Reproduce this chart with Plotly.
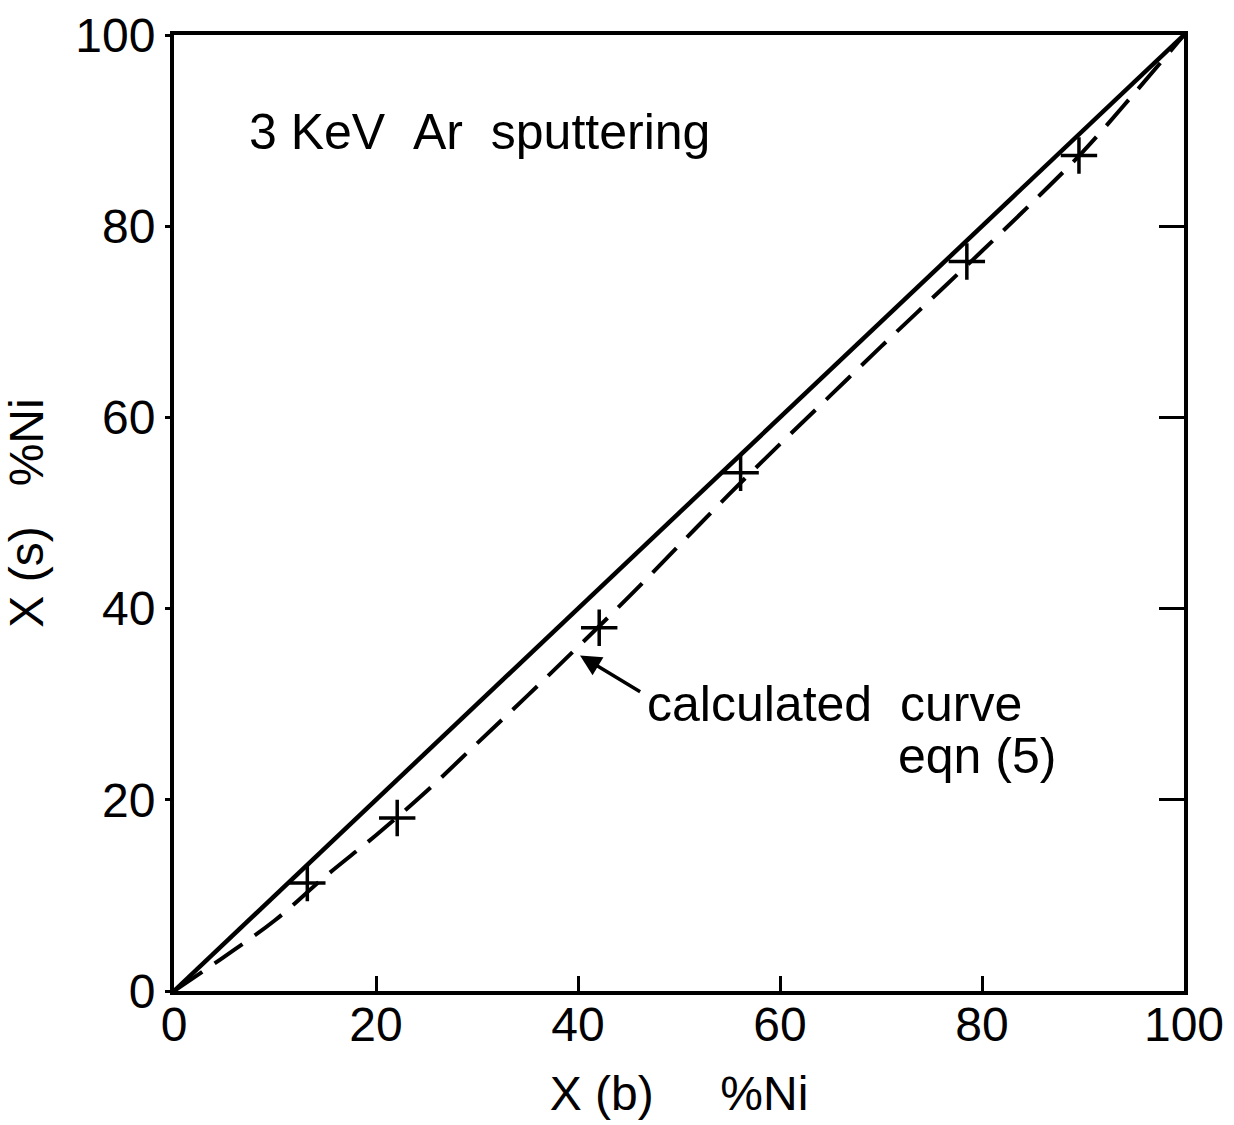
import plotly.graph_objects as go

# Measured points (+ markers)
pts_x = [13.2, 22.1, 42.1, 56.1, 78.5, 89.6]
pts_y = [11.3, 18.1, 38.0, 54.2, 76.3, 87.4]

# Calculated curve, eqn (5) (dashed)
calc_x = [0, 5, 10, 15, 20, 25, 30, 35, 40, 45, 50, 55, 60, 65, 70, 75, 80, 85, 90, 95, 100]
calc_y = [0, 3.6, 7.4, 12.0, 16.3, 20.9, 25.9, 30.9, 36.0, 41.2, 46.6, 52.0, 57.2, 62.3, 67.4, 72.4, 77.4, 82.5, 87.8, 93.8, 100]

# Reference diagonal (solid)
diag_x = [0, 100]
diag_y = [0, 100]

tick_vals = [0, 20, 40, 60, 80, 100]
tick_text = ["0", "20", "40", "60", "80", "100"]

FONT = "Liberation Sans"
NB = "\u00a0"

fig = go.Figure()
fig.add_trace(go.Scatter(x=diag_x, y=diag_y, mode="lines",
                         line=dict(color="black", width=4.5), showlegend=False))
fig.add_trace(go.Scatter(x=calc_x, y=calc_y, mode="lines",
                         line=dict(color="black", width=4, dash="34px,15px", shape="spline"),
                         showlegend=False))
fig.add_trace(go.Scatter(x=pts_x, y=pts_y, mode="markers",
                         marker=dict(symbol="cross-thin", size=26,
                                     line=dict(color="black", width=3.5)),
                         showlegend=False))
# invisible trace to activate right-side tick axis
fig.add_trace(go.Scatter(x=diag_x, y=diag_y, mode="lines", yaxis="y2",
                         line=dict(color="rgba(0,0,0,0)", width=0),
                         showlegend=False, hoverinfo="skip"))

fig.add_annotation(x=7.2, y=89.9, xref="x", yref="y", text="3" + NB + "KeV" + NB * 2 + "Ar" + NB * 2 + "sputtering",
                   showarrow=False, xanchor="left", yanchor="middle",
                   font=dict(family=FONT, size=50, color="black"))
fig.add_annotation(x=40.2, y=35.1, xref="x", yref="y",
                   ax=46.3, ay=31.2, axref="x", ayref="y",
                   text="", showarrow=True, arrowhead=2, arrowsize=1.2,
                   arrowwidth=3.5, arrowcolor="black")
fig.add_annotation(x=46.6, y=30.0, xref="x", yref="y", text="calculated" + NB * 2 + "curve",
                   showarrow=False, xanchor="left", yanchor="middle",
                   font=dict(family=FONT, size=50, color="black"))
fig.add_annotation(x=87.5, y=24.6, xref="x", yref="y", text="eqn (5)",
                   showarrow=False, xanchor="right", yanchor="middle",
                   font=dict(family=FONT, size=50, color="black"))

fig.update_layout(
    width=1234, height=1125,
    margin=dict(l=174, r=50, t=35, b=134),
    paper_bgcolor="white", plot_bgcolor="white",
    font=dict(family=FONT, color="black", size=48),
    xaxis=dict(range=[0, 100], tickvals=tick_vals, ticktext=tick_text,
               ticks="inside", ticklen=15, tickwidth=3, tickcolor="black",
               ticklabelstandoff=-12,
               showline=True, linewidth=4, linecolor="black", mirror=True,
               showgrid=False, zeroline=False, automargin=False,
               tickfont=dict(family=FONT, size=48, color="black"),
               title=dict(text="X" + NB + "(b)" + NB * 5 + "%Ni", standoff=28,
                          font=dict(family=FONT, size=48, color="black"))),
    yaxis=dict(range=[0, 100], tickvals=tick_vals, ticktext=tick_text,
               ticks="outside", ticklen=5, tickwidth=3, tickcolor="black",
               showline=True, linewidth=4, linecolor="black", mirror=True,
               showgrid=False, zeroline=False, automargin=False,
               tickfont=dict(family=FONT, size=48, color="black"),
               title=dict(text="X" + NB + "(s)" + NB * 3 + "%Ni", standoff=18,
                          font=dict(family=FONT, size=48, color="black"))),
    yaxis2=dict(range=[0, 100], overlaying="y", side="right",
                tickvals=[20, 40, 60, 80], ticks="inside", ticklen=25, tickwidth=3,
                tickcolor="black", showticklabels=False, showgrid=False,
                zeroline=False, showline=False, automargin=False),
)

fig.write_html("out.html")
